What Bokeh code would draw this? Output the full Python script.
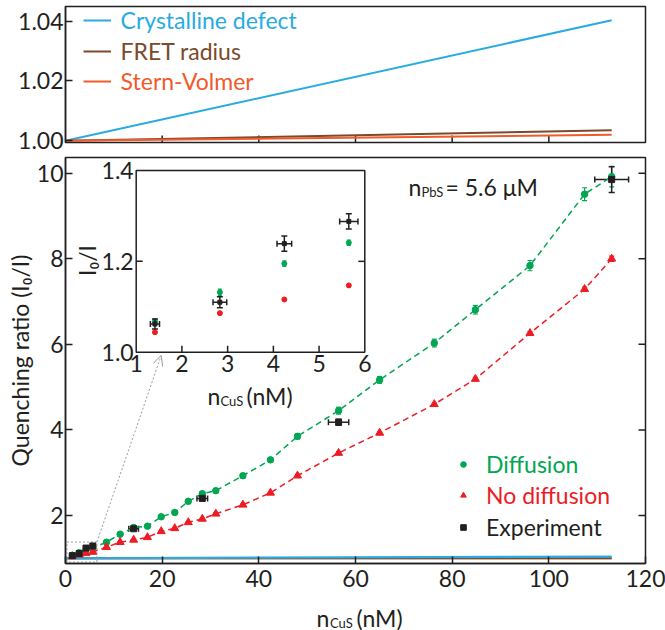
import math
from bokeh.plotting import figure
from bokeh.layouts import column
from bokeh.models import (Range1d, Label, Whisker, ColumnDataSource, FixedTicker,
                          Arrow, OpenHead, Legend, LegendItem, TeeHead, CustomJSTickFormatter)
from bokeh.core.properties import value
from bokeh.embed import file_html
from bokeh.resources import INLINE

FONT = "Lato"
INK = "#231f20"
GREEN = "#00a651"
RED = "#ed1c24"
BLUE = "#29abe2"
BROWN = "#7a4a2a"
ORANGE = "#f15a2b"
GRAY = "#9a9a9a"

# ---------------- data ----------------
n_cus_model = [1.41, 2.83, 4.24, 5.65, 8.48, 11.3, 14.1, 16.96, 19.8, 22.6, 25.4, 28.3,
               31.1, 36.7, 42.4, 48.0, 56.5, 65.0, 76.3, 84.8, 96.1, 107.4, 113.0]
diffusion = [1.068, 1.132, 1.195, 1.241, 1.376, 1.563, 1.72, 1.75, 1.97, 2.07, 2.33, 2.51,
             2.58, 2.93, 3.30, 3.85, 4.45, 5.17, 6.03, 6.81, 7.84, 9.51, 9.92]
diffusion_err = [0.005, 0.007, 0.006, 0.006, 0.02, 0.02, 0.03, 0.03, 0.03, 0.03, 0.04, 0.04,
                 0.04, 0.05, 0.05, 0.06, 0.08, 0.08, 0.09, 0.10, 0.12, 0.15, 0.24]
no_diffusion = [1.044, 1.086, 1.116, 1.147, 1.26, 1.376, 1.43, 1.49, 1.63, 1.70, 1.84, 1.92,
                2.04, 2.25, 2.53, 2.93, 3.46, 3.93, 4.60, 5.19, 6.26, 7.29, 8.0]
no_diffusion_err = [0.002, 0.002, 0.002, 0.002, 0.01, 0.01, 0.01, 0.01, 0.01, 0.01, 0.02, 0.02,
                    0.02, 0.02, 0.02, 0.03, 0.03, 0.03, 0.03, 0.04, 0.04, 0.05, 0.06]
n_cus_exp = [1.41, 2.83, 4.24, 5.65, 14.1, 28.3, 56.5, 113.0]
experiment = [1.062, 1.110, 1.239, 1.288, 1.69, 2.40, 4.18, 9.85]
experiment_xerr = [0.10, 0.15, 0.16, 0.20, 1.0, 1.1, 2.1, 3.5]
experiment_yerr = [0.011, 0.012, 0.017, 0.017, 0.03, 0.05, 0.07, 0.30]

top_x = [0.0, 113.0]
crystalline_defect = [1.0, 1.0403]
fret_radius = [1.0, 1.0035]
stern_volmer = [1.0, 1.0020]

main_xticks = [0, 20, 40, 60, 80, 100, 120]
main_yticks = [2, 4, 6, 8, 10]
top_xticks = [20, 40, 60, 80, 100]
top_yticks = [1.00, 1.02, 1.04]
inset_xticks = [1, 2, 3, 4, 5, 6]
inset_yticks = [1.0, 1.2, 1.4]
inset_xlim = [1, 6]
inset_ylim = [1.0, 1.4]
zoom_box = dict(left=0.3, right=6.5, bottom=0.91, top=1.38)
arrow_end = (19.8, 5.74)

# ---------------- geometry (pixels) ----------------
FL, FR = 65, 645
FT, FB = 157, 563
Y0, Y1 = 0.878, 10.367
IX0, IX1, IYT, IYB = 135.7, 364.3, 170.0, 351.7
TOP_H = 155
MAIN_BB = 35
LAB_TOP = TOP_H + 2 + 406 + MAIN_BB
LAB_H = 630 - LAB_TOP


def mx(px):
    return (px - FL) / (FR - FL) * 120.0


def my(py):
    return Y0 + (FB - py) / (FB - FT) * (Y1 - Y0)


def style_axis(ax, ticks, standoff=3):
    ax.ticker = FixedTicker(ticks=ticks, minor_ticks=[])
    ax.major_tick_in = 7
    ax.major_tick_out = 0
    ax.minor_tick_line_color = None
    ax.axis_line_color = INK
    ax.axis_line_width = 1.5
    ax.major_tick_line_color = INK
    ax.major_tick_line_width = 1.5
    ax.major_label_text_font = FONT
    ax.major_label_text_color = INK
    ax.major_label_text_font_size = "23px"
    ax.major_label_standoff = standoff


def make_legend(fig, renderer, text, color, loc, gw, gh, standoff):
    lg = Legend(items=[LegendItem(label=text, renderers=[renderer])], location=loc,
                orientation="vertical", padding=0, margin=0, spacing=0,
                glyph_width=gw, glyph_height=gh, label_standoff=standoff,
                label_text_font=FONT, label_text_font_size="23px", label_text_color=color,
                border_line_color=None, background_fill_alpha=0, label_height=24)
    fig.add_layout(lg)


# ---------------- top panel ----------------
t = figure(frame_width=580, frame_height=136, x_range=Range1d(0, 120),
           y_range=Range1d(0.99943, 1.0449), output_backend="svg", toolbar_location=None,
           x_axis_location=None,
           min_border_left=65, min_border_right=20, min_border_top=6,
           min_border_bottom=TOP_H - 6 - 136, title=None)
t.grid.visible = False
t.outline_line_color = INK
t.outline_line_width = 1.5
style_axis(t.yaxis[0], top_yticks, standoff=2)
t.yaxis[0].formatter = CustomJSTickFormatter(code="return tick.toFixed(2);")
# inward x ticks (half of each dash is clipped by the frame)
t.scatter(x=top_xticks, y=[t.y_range.start] * len(top_xticks), marker="dash", angle=math.pi / 2,
          size=14, line_color=INK, line_width=1.5)

r_cd = t.line(top_x, crystalline_defect, line_color=BLUE, line_width=2)
r_fr = t.line(top_x, fret_radius, line_color=BROWN, line_width=2)
r_sv = t.line(top_x, stern_volmer, line_color=ORANGE, line_width=2)
make_legend(t, r_cd, "Crystalline defect", BLUE, (17.6, 107.8), 28, 20, 10)
make_legend(t, r_fr, "FRET radius", BROWN, (17.6, 76.8), 28, 20, 10)
make_legend(t, r_sv, "Stern-Volmer", ORANGE, (17.6, 46.8), 28, 20, 10)

# ---------------- main panel ----------------
p = figure(frame_width=580, frame_height=406, x_range=Range1d(0, 120), y_range=Range1d(Y0, Y1),
           output_backend="svg", toolbar_location=None,
           min_border_left=65, min_border_right=20, min_border_top=2, min_border_bottom=MAIN_BB,
           title=None)
p.grid.visible = False
p.outline_line_color = INK
p.outline_line_width = 1.5
style_axis(p.xaxis[0], main_xticks, standoff=6)
style_axis(p.yaxis[0], main_yticks, standoff=2)
p.yaxis[0].axis_label = "Quenching ratio (I\u2080/I)"
p.yaxis[0].axis_label_text_font = FONT
p.yaxis[0].axis_label_text_font_size = "23px"
p.yaxis[0].axis_label_text_font_style = "normal"
p.yaxis[0].axis_label_text_color = INK
p.yaxis[0].axis_label_standoff = 0
# inward right ticks
p.scatter(x=[p.x_range.end] * len(main_yticks), y=main_yticks, marker="dash",
          size=14, line_color=INK, line_width=1.5)

kx = (IX1 - IX0) / (inset_xlim[1] - inset_xlim[0])
ky = (IYB - IYT) / (inset_ylim[1] - inset_ylim[0])
p.extra_x_ranges = {"ix": Range1d(inset_xlim[0] - (IX0 - FL) / kx, inset_xlim[1] + (FR - IX1) / kx)}
p.extra_y_ranges = {"iy": Range1d(inset_ylim[0] - (FB - IYB) / ky, inset_ylim[1] + (IYT - FT) / ky),
                    "off": Range1d(1e6, 2e6)}

# model lines near 1
p.line(top_x, stern_volmer, line_color=ORANGE, line_width=2)
p.line(top_x, fret_radius, line_color=BROWN, line_width=2)
p.line(top_x, crystalline_defect, line_color=BLUE, line_width=2.2)

# zoom box
p.quad(left=[zoom_box["left"]], right=[zoom_box["right"]], bottom=[zoom_box["bottom"]],
       top=[zoom_box["top"]], fill_color=None, line_color=GRAY, line_width=1, line_dash="2 2")

# simulations
p.line(n_cus_model, diffusion, line_color=GREEN, line_width=1.5, line_dash="6 4")
p.line(n_cus_model, no_diffusion, line_color=RED, line_width=1.5, line_dash="6 4")

src_d = ColumnDataSource(dict(x=n_cus_model, y=diffusion,
                              lo=[v - e for v, e in zip(diffusion, diffusion_err)],
                              hi=[v + e for v, e in zip(diffusion, diffusion_err)]))
src_n = ColumnDataSource(dict(x=n_cus_model, y=no_diffusion,
                              lo=[v - e for v, e in zip(no_diffusion, no_diffusion_err)],
                              hi=[v + e for v, e in zip(no_diffusion, no_diffusion_err)]))
src_e = ColumnDataSource(dict(x=n_cus_exp, y=experiment,
                              lo=[v - e for v, e in zip(experiment, experiment_yerr)],
                              hi=[v + e for v, e in zip(experiment, experiment_yerr)],
                              xl=[v - e for v, e in zip(n_cus_exp, experiment_xerr)],
                              xh=[v + e for v, e in zip(n_cus_exp, experiment_xerr)]))

for src, col in ((src_d, GREEN), (src_n, RED)):
    p.add_layout(Whisker(source=src, base="x", lower="lo", upper="hi", dimension="height",
                         line_color=col, line_width=1.2,
                         upper_head=TeeHead(size=5, line_color=col, line_width=1.2),
                         lower_head=TeeHead(size=5, line_color=col, line_width=1.2)))
p.scatter("x", "y", source=src_d, marker="circle", size=6.5, color=GREEN)
p.scatter("x", "y", source=src_n, marker="triangle", size=8, color=RED)

for dim, base, lo, hi in (("height", "x", "lo", "hi"), ("width", "y", "xl", "xh")):
    p.add_layout(Whisker(source=src_e, base=base, lower=lo, upper=hi, dimension=dim,
                         line_color=INK, line_width=1.5,
                         upper_head=TeeHead(size=6, line_color=INK, line_width=1.5),
                         lower_head=TeeHead(size=6, line_color=INK, line_width=1.5)))
p.scatter("x", "y", source=src_e, marker="square", size=6, color=INK)

# arrow from zoom box to inset
p.add_layout(Arrow(x_start=zoom_box["right"], y_start=zoom_box["top"],
                   x_end=arrow_end[0], y_end=arrow_end[1],
                   line_color=GRAY, line_width=1, line_dash="2 2",
                   end=OpenHead(size=10, line_color=GRAY, line_width=1)))

# ---------------- inset ----------------
IR = dict(x_range_name="ix", y_range_name="iy")
p.quad(left=[inset_xlim[0]], right=[inset_xlim[1]], bottom=[inset_ylim[0]], top=[inset_ylim[1]],
       fill_color="white", line_color=INK, line_width=1.5, **IR)
tlx = 6.5 / kx
tly = 6.5 / ky
p.segment(x0=inset_xticks[1:-1], y0=[inset_ylim[0]] * 4, x1=inset_xticks[1:-1],
          y1=[inset_ylim[0] + tly] * 4, line_color=INK, line_width=1.5, **IR)
p.segment(x0=[inset_xlim[0], inset_xlim[1]], y0=[inset_yticks[1]] * 2,
          x1=[inset_xlim[0] + tlx, inset_xlim[1] - tlx], y1=[inset_yticks[1]] * 2,
          line_color=INK, line_width=1.5, **IR)
p.text(x=inset_xticks, y=[inset_ylim[0] - 3.0 / ky] * len(inset_xticks),
       text=[str(v) for v in inset_xticks], text_align="center", text_baseline="top",
       text_font=value(FONT), text_font_size="23px", text_color=INK, **IR)
p.text(x=[inset_xlim[0] - 2.5 / kx] * len(inset_yticks), y=inset_yticks,
       text=["%.1f" % v for v in inset_yticks], text_align="right", text_baseline="middle",
       text_font=value(FONT), text_font_size="23px", text_color=INK, **IR)

ins = [i for i, v in enumerate(n_cus_model) if v <= inset_xlim[1]]
inse = [i for i, v in enumerate(n_cus_exp) if v <= inset_xlim[1]]
src_di = ColumnDataSource({k: [src_d.data[k][i] for i in ins] for k in src_d.data})
src_ni = ColumnDataSource({k: [src_n.data[k][i] for i in ins] for k in src_n.data})
src_ei = ColumnDataSource({k: [src_e.data[k][i] for i in inse] for k in src_e.data})


def vbars(src, col, lw, cap):
    p.segment(x0="x", y0="lo", x1="x", y1="hi", source=src, line_color=col, line_width=lw, **IR)
    for end in ("lo", "hi"):
        p.scatter(x="x", y=end, source=src, marker="dash", size=cap, line_color=col,
                  line_width=lw, **IR)


vbars(src_di, GREEN, 1.2, 4)
p.scatter("x", "y", source=src_di, marker="circle", size=5, color=GREEN, **IR)
p.scatter("x", "y", source=src_ni, marker="circle", size=5, color=RED, **IR)
vbars(src_ei, INK, 1.5, 6)
p.segment(x0="xl", y0="y", x1="xh", y1="y", source=src_ei, line_color=INK, line_width=1.5, **IR)
for end in ("xl", "xh"):
    p.scatter(x=end, y="y", source=src_ei, marker="dash", angle=math.pi / 2, size=6,
              line_color=INK, line_width=1.5, **IR)
p.scatter("x", "y", source=src_ei, marker="square", size=4, color=INK, **IR)


# ---------------- texts inside the main frame ----------------
def add_label(px, py, text, size="23px", color=INK, align="left", baseline="alphabetic", angle=0.0):
    p.add_layout(Label(x=mx(px), y=my(py), text=text, text_font=FONT, text_font_size=size,
                       text_color=color, text_align=align, text_baseline=baseline, angle=angle))


add_label(207, 395, "n")
add_label(220, 400, "CuS", size="13px")
add_label(246, 395, "(nM)")
add_label(86, 260, "I\u2080/I", align="center", baseline="middle", angle=math.pi / 2)
add_label(408, 186, "n")
add_label(421, 191, "PbS", size="13px")
add_label(445, 186, "= 5.6 \u03bcM")

# legend glyphs: renderers on the real data, mapped to an off-screen range
lg_d = p.scatter("x", "y", source=src_d, marker="circle", size=10, color=GREEN, y_range_name="off")
lg_n = p.scatter("x", "y", source=src_n, marker="triangle", size=11, color=RED, y_range_name="off")
lg_e = p.scatter("x", "y", source=src_e, marker="square", size=9, color=INK, y_range_name="off")
make_legend(p, lg_d, "Diffusion", GREEN, (391, 85), 14, 14, 16)
make_legend(p, lg_n, "No diffusion", RED, (391, 54), 14, 14, 16)
make_legend(p, lg_e, "Experiment", INK, (391, 22), 14, 14, 16)

# ---------------- x axis title strip (same x scale as main panel) ----------------
lab = figure(frame_width=580, frame_height=LAB_H, x_range=p.x_range,
             y_range=Range1d(LAB_H, 0), output_backend="svg", toolbar_location=None,
             x_axis_location=None, y_axis_location=None,
             min_border_left=65, min_border_right=20, min_border_top=0, min_border_bottom=0,
             title=None)
lab.grid.visible = False
lab.outline_line_color = None
xlab_parts = ["n", "CuS", "(nM)"]
xlab_x = [316, 329.5, 356]
xlab_base = [617, 622, 617]
xlab_size = ["23px", "13px", "23px"]
for txt, px, py, sz in zip(xlab_parts, xlab_x, xlab_base, xlab_size):
    lab.text(x=[mx(px)], y=[py - LAB_TOP], text=[txt], text_align="left", text_baseline="alphabetic",
             text_font=value(FONT), text_font_size=sz, text_color=INK)

layout = column(t, p, lab, spacing=0)
open("out.html", "w").write(file_html(layout, INLINE))
